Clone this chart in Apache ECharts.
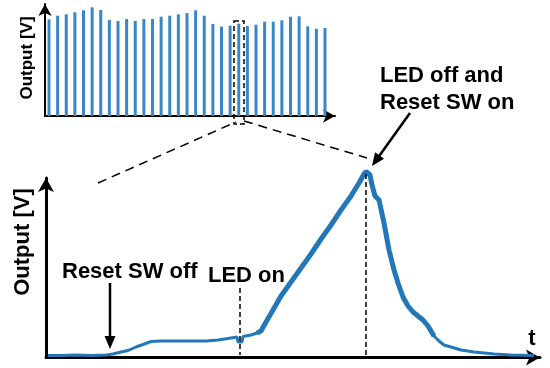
<!DOCTYPE html>
<html>
<head>
<meta charset="utf-8">
<script src="https://cdn.jsdelivr.net/npm/echarts@6/dist/echarts.min.js"></script>
<style>
html,body{margin:0;padding:0;background:#fff;}
#main{width:550px;height:368px;}
</style>
</head>
<body>
<div id="main"></div>
<script>
// Top panel: repeated output pulses (arbitrary units)
const pulseIndex = [0,1,2,3,4,5,6,7,8,9,10,11,12,13,14,15,16,17,18,19,20,21,22,23,24,25,26,27,28,29,30,31,32];
const pulseHeights = [96.7,100.3,101.7,103.7,105.7,108.7,106,96,95,97,95,97,97,99.3,100.3,101.7,103,105.7,100.3,92,89.3,90.3,92.3,90,91.3,94.3,94.3,95.7,99.3,99.7,89.7,87.3,88];

// Bottom panel: one zoomed pulse (arbitrary time / voltage units)
const curveT = [2,15,30,45,60,67,75,82,90,97,105,115,130,145,160,172,182,191,192,196,197,205,211,215,220,227,235,245,255,265,275,285,295,305,313,318,320,322,324,326,329,333,338,343,348,352,357,362,367,372,377,382,388,393,398,405,415,428,448,465,488];
const curveV = [2,2,2.5,2,2.5,3.5,5.5,7,10.5,13,16,16.5,16.5,16.5,16.5,17.5,19,20.5,15.5,15.5,21,22.5,24.5,26.5,35.5,47.5,61.5,75.5,89.5,103.5,118.5,132.5,147.5,161.5,174.5,183.5,186,186,182.5,172.5,161.5,157.5,134.5,107.5,87.5,74.5,60.5,51.5,45.5,41.5,37.5,31.5,21.5,16.5,12.5,10.5,7.5,5.5,3.5,2.5,2];
const thickStart = 22, thickEnd = 52; // index range of the bold (fast-changing) part

const LABELS = {
  yTop: 'Output [V]',
  yBottom: 'Output [V]',
  xBottom: 't',
  resetOff: 'Reset SW off',
  ledOn: 'LED on',
  ledOff: ['LED off and', 'Reset SW on']
};

const BLUE = '#2377b8';
const BAR_BLUE = '#3a87c8';
const FAMILY = 'Liberation Sans';

const curveData = curveT.map((t, i) => [t, curveV[i]]);
const thickData = curveData.slice(thickStart, thickEnd + 1);

const chart = echarts.init(document.getElementById('main'), null, {renderer: 'canvas'});

function arrowEls(x1, y1, x2, y2, lw, hl, hw) {
  const dx = x2 - x1, dy = y2 - y1, L = Math.sqrt(dx*dx + dy*dy);
  const ux = dx / L, uy = dy / L, px = -uy, py = ux;
  const bx = x2 - ux*hl, by = y2 - uy*hl;
  return [
    {type: 'line', shape: {x1: x1, y1: y1, x2: bx + ux, y2: by + uy}, style: {stroke: '#000', lineWidth: lw}, z: 50},
    {type: 'polygon', shape: {points: [[x2, y2], [bx + px*hw, by + py*hw], [bx - px*hw, by - py*hw]]}, style: {fill: '#000'}, z: 50}
  ];
}

function textEl(str, x, y, size, align, rot) {
  return {type: 'text', x: x, y: y, rotation: rot || 0, z: 50,
    style: {text: str, fontFamily: FAMILY, fontWeight: 'bold', fontSize: size, fill: '#000', align: align, verticalAlign: 'middle'}};
}

const dashStyle = (w, d) => ({stroke: '#000', lineWidth: w, lineDash: d, fill: null});

const graphics = [
  textEl(LABELS.yTop, 27, 58, 17, 'center', Math.PI/2),
  textEl(LABELS.yBottom, 23, 242, 22, 'center', Math.PI/2),
  textEl(LABELS.xBottom, 532, 339, 22, 'center'),
  textEl(LABELS.resetOff, 62, 272, 22, 'left'),
  textEl(LABELS.ledOn, 208, 276, 22, 'left'),
  textEl(LABELS.ledOff[0], 380, 76, 22, 'left'),
  textEl(LABELS.ledOff[1], 380, 103, 22, 'left'),
  // dashed zoom box and connectors
  {type: 'rect', shape: {x: 234, y: 21, width: 10, height: 103}, style: dashStyle(1.5, [5, 3]), z: 40},
  {type: 'line', shape: {x1: 98, y1: 183, x2: 236, y2: 122}, style: dashStyle(1.5, [9, 6]), z: 40},
  {type: 'line', shape: {x1: 244, y1: 121, x2: 367, y2: 158}, style: dashStyle(1.5, [9, 6]), z: 40},
  // dashed verticals
  {type: 'line', shape: {x1: 240, y1: 288, x2: 240, y2: 355}, style: dashStyle(1.5, [5, 3]), z: 40},
  {type: 'line', shape: {x1: 366, y1: 174, x2: 366, y2: 356}, style: dashStyle(1.5, [5, 3]), z: 40}
].concat(arrowEls(110, 283, 110, 349, 2.5, 13, 5.5))
 .concat(arrowEls(410, 113, 372, 166, 2.5, 13, 5.5));

const option = {
  animation: false,
  backgroundColor: '#fff',
  grid: [
    {left: 45, right: 215, top: 4, bottom: 252},
    {left: 46, right: 10, top: 178, bottom: 10.5}
  ],
  xAxis: [
    {gridIndex: 0, type: 'value', min: -0.464, max: 33.16,
     axisLine: {show: true, onZero: false, lineStyle: {color: '#000', width: 2}, symbol: ['none', 'arrow'], symbolSize: [10, 12]},
     axisTick: {show: false}, axisLabel: {show: false}, splitLine: {show: false}},
    {gridIndex: 1, type: 'value', min: 0, max: 494,
     axisLine: {show: true, onZero: false, lineStyle: {color: '#000', width: 3}, symbol: ['none', 'arrow'], symbolSize: [12, 14]},
     axisTick: {show: false}, axisLabel: {show: false}, splitLine: {show: false}}
  ],
  yAxis: [
    {gridIndex: 0, type: 'value', min: 0, max: 112,
     axisLine: {show: true, onZero: false, lineStyle: {color: '#000', width: 2}, symbol: ['none', 'arrow'], symbolSize: [10, 12]},
     axisTick: {show: false}, axisLabel: {show: false}, splitLine: {show: false}},
    {gridIndex: 1, type: 'value', min: 0, max: 179.5,
     axisLine: {show: true, onZero: false, lineStyle: {color: '#000', width: 3}, symbol: ['none', 'arrow'], symbolSize: [12, 14]},
     axisTick: {show: false}, axisLabel: {show: false}, splitLine: {show: false}}
  ],
  series: [
    {type: 'bar', xAxisIndex: 0, yAxisIndex: 0, barWidth: 3, clip: false,
     data: pulseIndex.map((i, k) => [i, pulseHeights[k]]),
     itemStyle: {color: BAR_BLUE}, z: 2},
    {type: 'line', xAxisIndex: 1, yAxisIndex: 1, data: curveData, showSymbol: false, clip: false,
     lineStyle: {color: BLUE, width: 3}, z: 3},
    {type: 'line', xAxisIndex: 1, yAxisIndex: 1, data: thickData, showSymbol: false, clip: false,
     lineStyle: {color: BLUE, width: 5}, z: 3}
  ],
  graphic: graphics
};
chart.setOption(option);
</script>
</body>
</html>
